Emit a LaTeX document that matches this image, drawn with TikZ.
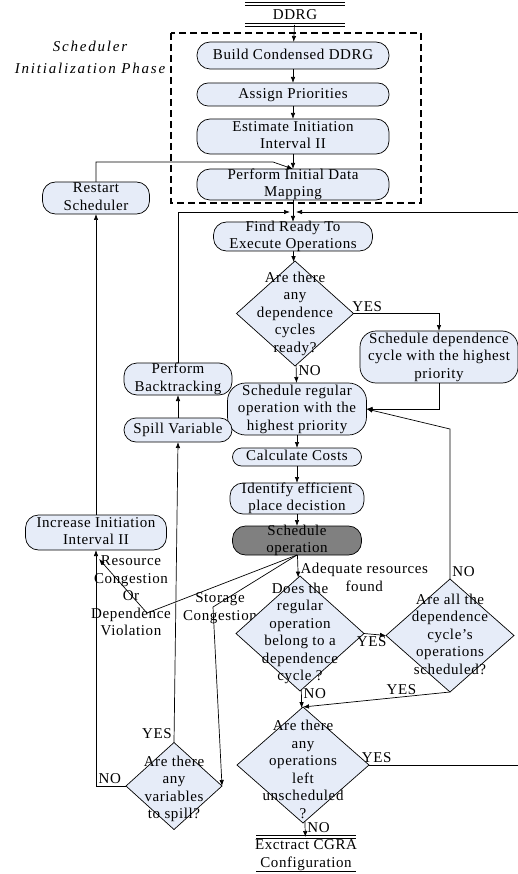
\documentclass[tikz,border=0pt]{standalone}
\usepackage{fontspec}
\setmainfont{Liberation Serif}[LetterSpace=4]
\newfontfamily\phasefont{Liberation Serif}[LetterSpace=12]
\usetikzlibrary{positioning, shapes.geometric, arrows.meta}
\definecolor{boxfill}{RGB}{230,236,248}
\definecolor{opgrey}{RGB}{128,128,128}
\newcommand{\boxtxt}[2][0pt]{\raisebox{\dimexpr-3.75pt-#1\relax}[0pt][0pt]{\makebox[0pt]{\begin{tabular}{@{}c@{}}#2\end{tabular}}}}
\tikzset{
    proc/.style={draw, fill=boxfill, rounded corners=13pt, inner sep=0pt, outer sep=0pt},
    decide/.style={draw, diamond, fill=boxfill, inner sep=0pt, outer sep=0pt},
    term/.style={inner sep=0pt, outer sep=0pt, minimum width=100pt},
    box/.style 2 args={minimum width=#1pt, minimum height=#2pt},
    phase/.style={draw, dash pattern=on 7pt off 4pt, line width=1.6pt},
    lbl/.style={inner sep=2pt}
}

\begin{document}
\begin{tikzpicture}[x=1pt, y=-1pt, line width=0.7pt, >={Latex[length=6pt, width=4.5pt]},
        font=\fontsize{15}{17.5}\selectfont]
        \useasboundingbox (0,0) rectangle (517,874);

        % labels lying under the shapes
        \node[align=center]                                         (storage) at (220,608) {Storage\\Congestion};
        \node[align=center]                                         (congest) at (131,596) {Resource\\Congestion\\Or\\Dependence\\Violation};
        \node[align=center, font=\phasefont\itshape\fontsize{15}{22}\selectfont] (phaselbl) at (90,57) {Scheduler\\Initialization Phase};

        % main column
        \node[term, minimum height=21pt] at (295,14.5)              (ddrg)      {DDRG};
        \node[proc, box={192}{27}, below=17pt of ddrg, xshift=-2pt] (build)     {\boxtxt{Build Condensed DDRG}};
        \node[proc, box={192}{23}, rounded corners=11pt, below=14pt of build] (assign) {\boxtxt{Assign Priorities}};
        \node[proc, box={192}{35}, below=13pt of assign]            (estimate)  {\boxtxt{Estimate Initiation\\Interval II}};
        \node[proc, box={192}{31}, below=15pt of estimate]          (mapping)   {\boxtxt{Perform Initial Data\\Mapping}};
        \node[proc, box={159}{29}, below=22pt of mapping]           (findready) {\boxtxt{Find Ready To\\Execute Operations}};
        \node[decide, box={117}{105}, below=10pt of findready, xshift=2pt] (cycles) {\boxtxt{Are there\\any\\dependence\\cycles\\ready?}};
        \node[proc, box={139}{52}, rounded corners=18pt, below=17pt of cycles, xshift=2pt] (regular) {\boxtxt{Schedule regular\\operation with the\\highest priority}};
        \node[proc, box={129}{18}, rounded corners=9pt, below=13pt of regular] (costs) {\boxtxt{Calculate Costs}};
        \node[proc, box={134}{31}, below=17pt of costs]             (identify)  {\boxtxt{Identify efficient\\place decistion}};
        \node[proc, box={129}{29}, fill=opgrey, below=12pt of identify] (schedop) {\boxtxt{Schedule\\operation}};
        \node[decide, box={128}{115}, below=21pt of schedop, xshift=3pt] (belong) {\boxtxt{Does the\\regular\\operation\\belong to a\\dependence\\cycle ?}};
        \node[decide, box={132}{116}, below=16pt of belong, xshift=3pt] (left) {\boxtxt[6pt]{Are there\\any\\operations\\left\\unscheduled\\?}};
        \node[term, box={100}{36}, below=14pt of left, xshift=3pt]  (extract)   {\boxtxt{Exctract CGRA\\Configuration}};

        % side nodes
        \node[decide, box={128}{113}, right=22pt of belong, yshift=-2pt] (allsched) {\boxtxt{Are all the\\dependence\\cycle's\\operations\\scheduled?}};
        \node[proc, box={158}{52}, rounded corners=16pt] at (439,357) (depsched) {\boxtxt{Schedule dependence\\cycle with the highest\\priority}};
        \node[proc, box={107}{32}] at (96,198)                      (restart)   {\boxtxt{Restart\\Scheduler}};
        \node[proc, box={108}{32}] at (178,379)                     (backtrack) {\boxtxt{Perform\\Backtracking}};
        \node[proc, box={108}{24}, rounded corners=12pt, below=23pt of backtrack] (spill) {\boxtxt{Spill Variable}};
        \node[proc, box={141}{35}] at (96,532.5)                    (increase)  {\boxtxt{Increase Initiation\\Interval II}};
        \node[decide, box={96}{87}] at (174,786)                    (spillq)    {\boxtxt[3pt]{Are there\\any\\variables\\to spill?}};

        \draw[phase] (171,33) rectangle (421,203);
        \draw[double, double distance=2.2pt] (ddrg.north west) -- (ddrg.north east);
        \draw[double, double distance=2.2pt] (ddrg.south west) -- (ddrg.south east);
        \draw[double, double distance=2.2pt] (extract.north west) -- (extract.north east);
        \draw[double, double distance=2.2pt] (extract.south west) -- (extract.south east);

        \coordinate (joinl)  at (290,212);
        \coordinate (joinr)  at (296,212);
        \coordinate (resend) at (99,559);

        \draw[->] (ddrg) -- (build);
        \draw[->] (build) -- (assign);
        \draw[->] (assign) -- (estimate);
        \draw[->] (estimate) -- (mapping);
        \draw[->] (mapping) -- (findready);
        \draw[->] (findready) -- (cycles);
        \draw[->] (cycles) -- node[lbl, right, pos=0.3] {NO} (regular);
        \draw[->] (cycles.east) -| node[lbl, above, pos=0.08] {YES} (depsched.north);
        \draw[->] (depsched.south) |- (regular.east);
        \draw[->] (allsched.north) -- node[lbl, right, pos=0.05] {NO} (allsched.north |- 0,429) -- (regular.east);
        \draw[->] (regular) -- (costs);
        \draw[->] (costs) -- (identify);
        \draw[->] (identify) -- (schedop);
        \draw[->] (schedop) -- node[lbl, right, pos=1, align=center] {Adequate resources\\found} (belong);
        \draw[->] (schedop.south) -- (147,613) -- (resend);
        \draw[->] (schedop.south) -- (213,607) -- (spillq.east);
        \draw[->] (belong.east) -- node[lbl, below, pos=0.35] {YES} (allsched.west);
        \draw[->] (belong) -- node[lbl, right, pos=0.2] {NO} (left);
        \draw[->] (allsched.south) -- node[lbl, above, pos=0.33] {YES} (left.north);
        \draw[->] (left.east) -- node[lbl, above, pos=0.05] {YES} (521,765) |- (joinr);
        \draw[->] (left) -- node[lbl, right, pos=0.4] {NO} (extract);
        \draw[->] (spillq.north) -- node[lbl, left, pos=0.03] {YES} (spill.south);
        \draw[->] (spillq.west) -| node[lbl, above, pos=0.27] {NO} (increase.south);
        \draw[->] (spill) -- (backtrack);
        \draw[->] (backtrack.north) |- (joinl);
        \draw[->] (increase) -- (restart);
        \draw[->] (restart.north) |- (273,162) -- (mapping.north);
    \end{tikzpicture}
\end{document}
